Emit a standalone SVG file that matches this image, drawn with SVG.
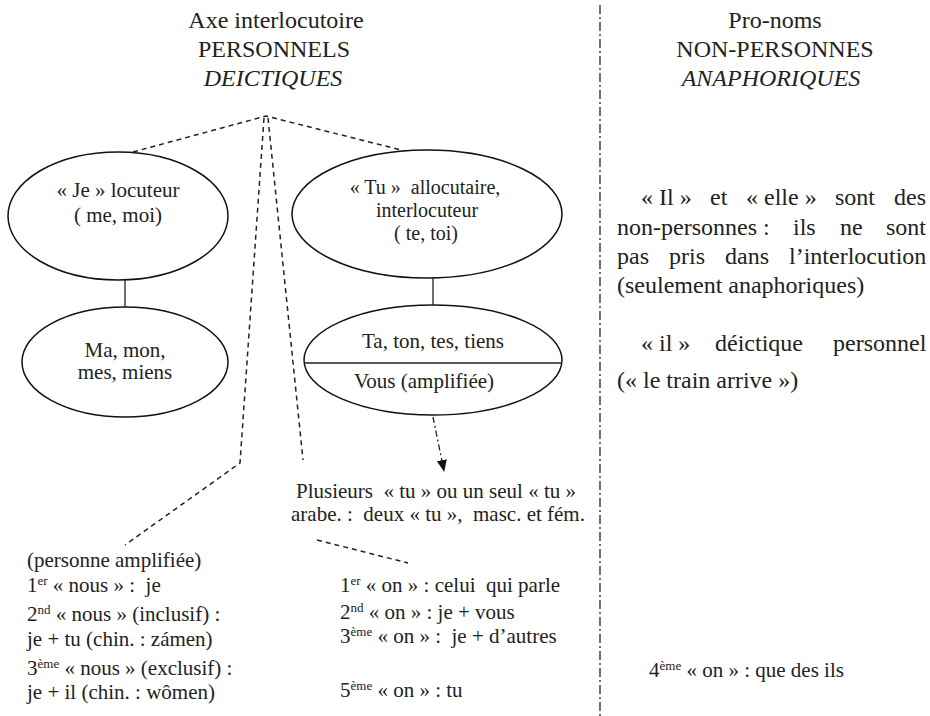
<svg xmlns="http://www.w3.org/2000/svg" width="930" height="716" viewBox="0 0 930 716">
<style>
text{font-family:"Liberation Serif","Times New Roman",serif;font-size:21px;fill:#222}
.t{font-size:24px}
.r{font-size:24px}
.s20{font-size:20px}
.c{text-anchor:middle}
.i{font-style:italic}
.sup{font-size:13px}
.n{fill:#fff;stroke:#111;stroke-width:1.5}
.dash{fill:none;stroke:#222;stroke-width:1.5;stroke-dasharray:5,4}
.dd{fill:none;stroke:#222;stroke-width:1.3;stroke-dasharray:9,3,2,3}
.solid{stroke:#222;stroke-width:1.3}
</style>
<defs>
<marker id="ah" markerWidth="13" markerHeight="11" refX="11" refY="5" orient="auto" markerUnits="userSpaceOnUse">
<path d="M0,0 L12,5 L0,10 Z" fill="#111"/>
</marker>
</defs>
<g id="titles">
<text class="t c" x="276" y="28">Axe interlocutoire</text>
<text class="t c" x="274" y="57">PERSONNELS</text>
<text class="t c i" x="273" y="86">DEICTIQUES</text>
<text class="t c" x="775" y="28">Pro-noms</text>
<text class="t c" x="775" y="57">NON-PERSONNES</text>
<text class="t c i" x="771" y="86">ANAPHORIQUES</text>
</g>
<g id="connectors">
<line class="dd" x1="600" y1="5" x2="600" y2="716"/>
<polyline class="dash" points="133,152 266,116 413,153"/>
<polyline class="dash" points="264,118 240,463 125,545"/>
<line class="dash" x1="268" y1="118" x2="303" y2="460"/>
<line class="solid" x1="125" y1="280" x2="125" y2="307"/>
<line class="solid" x1="433" y1="278" x2="433" y2="305"/>
<line class="dd" x1="433" y1="417" x2="444" y2="471" marker-end="url(#ah)" style="stroke-dasharray:6,3,2,3"/>
<line class="dash" x1="317" y1="540" x2="408" y2="563"/>
</g>
<g id="je">
<ellipse class="n" cx="118" cy="216" rx="110" ry="64"/>
<text class="c" x="118" y="197">« Je » locuteur</text>
<text class="c" x="118" y="222">( me, moi)</text>
</g>
<g id="ma">
<ellipse class="n" cx="125" cy="362" rx="103" ry="55"/>
<text class="c" x="125" y="357">Ma, mon,</text>
<text class="c" x="125" y="379">mes, miens</text>
</g>
<g id="tu">
<ellipse class="n" cx="427" cy="214" rx="135" ry="64"/>
<text class="c s20" x="425" y="194">« Tu » &#160;allocutaire,</text>
<text class="c s20" x="427" y="217">interlocuteur</text>
<text class="c s20" x="426" y="240">( te, toi)</text>
</g>
<g id="ta">
<ellipse class="n" cx="433" cy="360" rx="129" ry="55"/>
<line class="solid" x1="304" y1="363" x2="562" y2="363" style="stroke-width:1.6"/>
<text class="c" x="433" y="348">Ta, ton, tes, tiens</text>
<text class="c" x="424" y="388">Vous (amplifiée)</text>
</g>
<g id="plusieurs">
<text class="c" x="436" y="498">Plusieurs &#160;« tu » ou un seul « tu »</text>
<text class="c" x="438" y="521">arabe. : &#160;deux « tu », &#160;masc. et fém.</text>
</g>
<g id="nous">
<text x="27" y="567">(personne amplifiée)</text>
<text x="27" y="592">1<tspan class="sup" dy="-7">er</tspan><tspan dy="7"> « nous » : &#160;je</tspan></text>
<text x="27" y="621">2<tspan class="sup" dy="-7">nd</tspan><tspan dy="7"> « nous » (inclusif) :</tspan></text>
<text x="27" y="646">je + tu (chin. : zámen)</text>
<text x="27" y="675">3<tspan class="sup" dy="-7">ème</tspan><tspan dy="7"> « nous » (exclusif) :</tspan></text>
<text x="27" y="699">je + il (chin. : wômen)</text>
</g>
<g id="on">
<text x="340" y="592">1<tspan class="sup" dy="-7">er</tspan><tspan dy="7"> « on » : celui &#160;qui parle</tspan></text>
<text x="340" y="619">2<tspan class="sup" dy="-7">nd</tspan><tspan dy="7"> « on » : je + vous</tspan></text>
<text x="340" y="643">3<tspan class="sup" dy="-7">ème</tspan><tspan dy="7"> « on » : &#160;je + d’autres</tspan></text>
<text x="340" y="697">5<tspan class="sup" dy="-7">ème</tspan><tspan dy="7"> « on » : tu</tspan></text>
<text x="649" y="677">4<tspan class="sup" dy="-7">ème</tspan><tspan dy="7"> « on » : que des ils</tspan></text>
</g>
<g id="nonpersonnes">
<text class="r" y="205"><tspan x="641">«&#160;Il&#160;»</tspan><tspan x="710">et</tspan><tspan x="746">«&#160;elle&#160;»</tspan><tspan x="835">sont</tspan><tspan x="894">des</tspan></text>
<text class="r" y="235"><tspan x="617">non-personnes&#160;:</tspan><tspan x="793">ils</tspan><tspan x="840">ne</tspan><tspan x="886">sont</tspan></text>
<text class="r" y="264"><tspan x="617">pas</tspan><tspan x="669">pris</tspan><tspan x="725">dans</tspan><tspan x="789">l’interlocution</tspan></text>
<text class="r" x="617" y="293">(seulement anaphoriques)</text>
<text class="r" y="351"><tspan x="641">«&#160;il&#160;»</tspan><tspan x="715">déictique</tspan><tspan x="833">personnel</tspan></text>
<text class="r" x="617" y="388">(« le train arrive »)</text>
</g>
</svg>
